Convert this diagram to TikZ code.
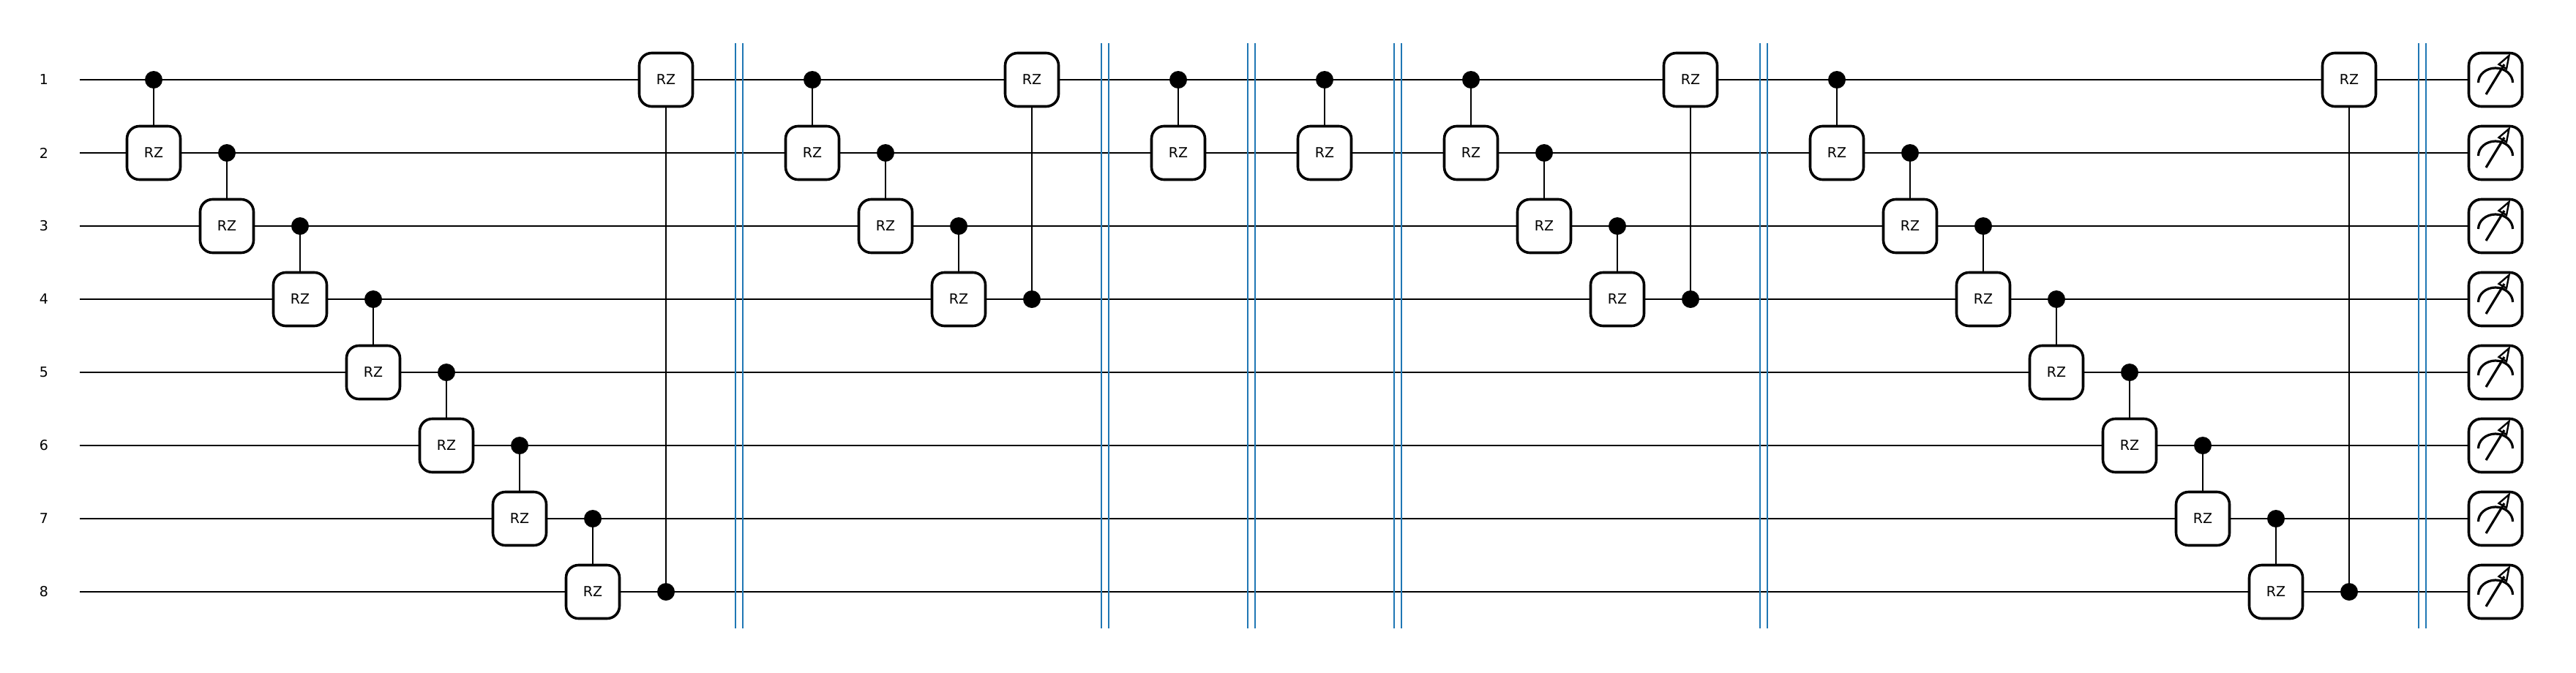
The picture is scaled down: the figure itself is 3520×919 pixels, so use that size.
\documentclass[tikz,border=0pt]{standalone}
\usepackage{fontspec}
\setmainfont{DejaVu Sans}
\usetikzlibrary{backgrounds,calc}
\tikzset{
  x=1pt,y=-1pt,
  wire/.style={line width=2pt,black},
  stem/.style={line width=2pt,black},
  gatebox/.style={draw=black,fill=white,line width=3.6pt,rounded corners=17pt,minimum width=73pt,minimum height=73pt,inner sep=0pt,font=\fontsize{19}{19}\selectfont},
  ctrl/.style={circle,fill=black,draw=none,minimum size=24pt,inner sep=0pt},
  barline/.style={line width=2pt,draw={rgb,255:red,31;green,119;blue,180}},
  qlabel/.style={font=\fontsize{19}{19}\selectfont,inner sep=0pt},
  meter/.style={line width=3.2pt,black},
}
\begin{document}
\begin{tikzpicture}
\useasboundingbox (0,0) rectangle (3520,919);
% qubit labels and wire starts
\foreach \q in {1,...,8}{
  \pgfmathsetmacro{\yy}{109+100*(\q-1)}
  \node[qlabel] (lab\q) at (60,\yy) {\q};
  \coordinate (start\q) at (109,\yy);
  \node[gatebox] (meas\q) at (3410,\yy) {};
}
% controlled RZ gates: column x / control wire / target wire
\foreach \n/\x/\c/\t in {
 a1/210/1/2,a2/310/2/3,a3/410/3/4,a4/510/4/5,a5/610/5/6,a6/710/6/7,a7/810/7/8,a8/910/8/1,
 b1/1110/1/2,b2/1210/2/3,b3/1310/3/4,b4/1410/4/1,
 c1/1610/1/2,d1/1810/1/2,
 e1/2010/1/2,e2/2110/2/3,e3/2210/3/4,e4/2310/4/1,
 f1/2510/1/2,f2/2610/2/3,f3/2710/3/4,f4/2810/4/5,f5/2910/5/6,f6/3010/6/7,f7/3110/7/8,f8/3210/8/1}{
  \pgfmathsetmacro{\yc}{109+100*(\c-1)}
  \pgfmathsetmacro{\yt}{109+100*(\t-1)}
  \node[gatebox] (g\n) at (\x,\yt) {RZ};
  \node[ctrl] (k\n) at (\x,\yc) {};
  \begin{scope}[on background layer]
    \draw[stem] (k\n.center) -- (g\n.center);
  \end{scope}
}
% wires, behind everything
\begin{scope}[on background layer]
\foreach \q in {1,...,8}{
  \draw[wire] (start\q) -- (meas\q.center);
}
\end{scope}
% barriers
\foreach \n/\x in {1/1010,2/1510,3/1710,4/1910,5/2410,6/3310}{
  \coordinate (bt\n) at (\x,59);
  \coordinate (bb\n) at (\x,859);
  \draw[barline] ($(bt\n)+(-5,0)$) -- ($(bb\n)+(-5,0)$);
  \draw[barline] ($(bt\n)+(5,0)$) -- ($(bb\n)+(5,0)$);
}
% meter glyphs
\foreach \q in {1,...,8}{
  \draw[meter] ($(meas\q.center)+(-23.5,4)$) arc[start angle=180,end angle=360,x radius=23.5,y radius=20];
  \draw[meter] ($(meas\q.center)+(-13,20)$) -- ($(meas\q.center)+(12,-21)$);
  \draw[line width=2.4pt,black,line join=miter] ($(meas\q.center)+(18.5,-33)$) -- ($(meas\q.center)+(4.5,-21)$) -- ($(meas\q.center)+(15,-15)$) -- cycle;
}
\end{tikzpicture}
\end{document}
